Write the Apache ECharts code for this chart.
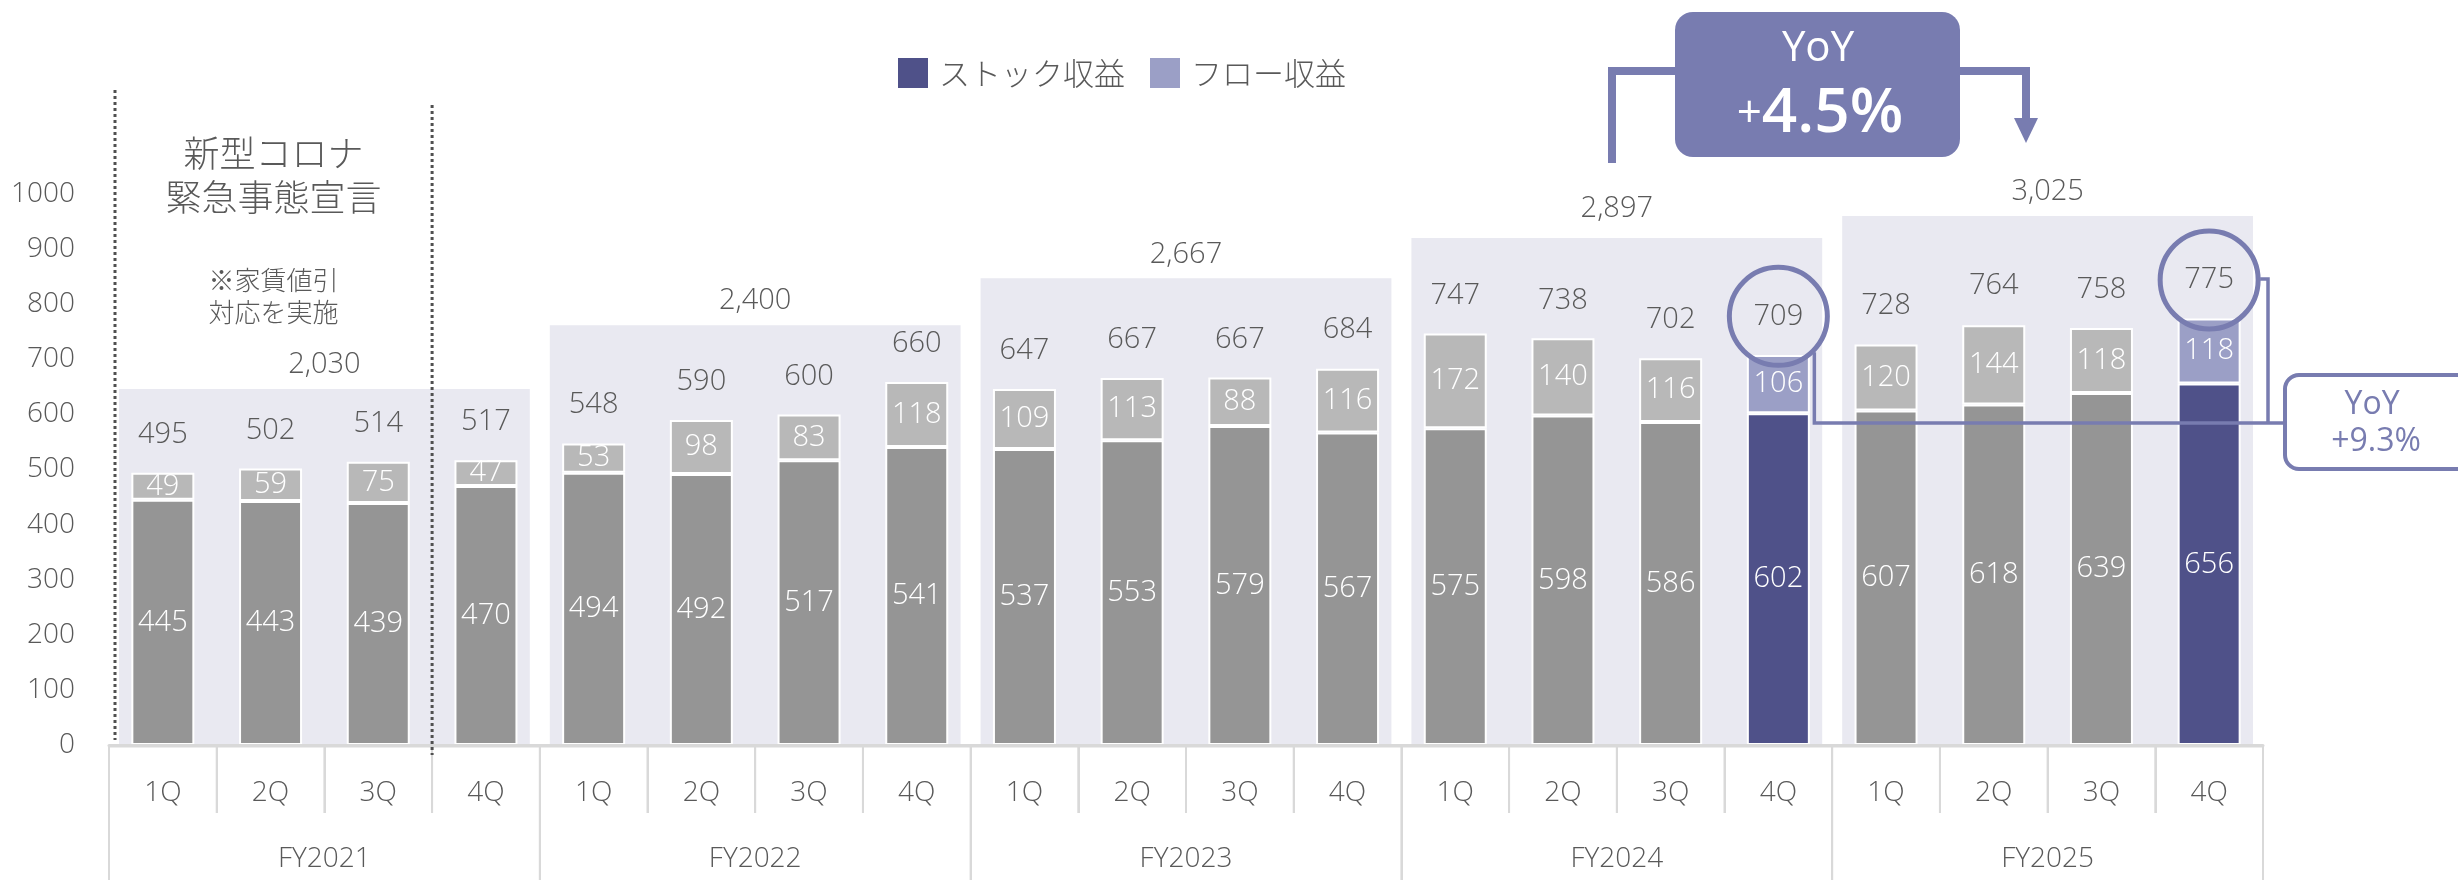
<!DOCTYPE html>
<html><head><meta charset="utf-8">
<script src="https://cdn.jsdelivr.net/npm/echarts@6/dist/echarts.min.js"></script>
<style>html,body{margin:0;padding:0;background:#fff}#c{width:2458px;height:880px}</style>
</head><body><div id="c"></div>
<script>
const quarters = ['1Q','2Q','3Q','4Q','1Q','2Q','3Q','4Q','1Q','2Q','3Q','4Q','1Q','2Q','3Q','4Q','1Q','2Q','3Q','4Q'];
const fiscalYears = ['FY2021','FY2022','FY2023','FY2024','FY2025'];
const stock = [445,443,439,470, 494,492,517,541, 537,553,579,567, 575,598,586,602, 607,618,639,656];
const flow  = [49,59,75,47, 53,98,83,118, 109,113,88,116, 172,140,116,106, 120,144,118,118];
const quarterTotals = [495,502,514,517, 548,590,600,660, 647,667,667,684, 747,738,702,709, 728,764,758,775];
const yearTotals = [2030,2400,2667,2897,3025];
const yTicks = [0,100,200,300,400,500,600,700,800,900,1000];
const highlighted = [15,19];
const seriesNames = ['ストック収益','フロー収益'];

const NUM = "'Open Sans','Noto Sans CJK JP',sans-serif";
const JP = "'Noto Sans CJK JP','Open Sans',sans-serif";
const TXT = '#595959';
const DARK = '#4F5189', LIGHT = '#9B9FC6', GRAY_D = '#959595', GRAY_L = '#B8B8B8', BOX = '#E9E9F1', ACC = '#787CB0';
const boxTop = [646,762,847,920,960];

const chart = echarts.init(document.getElementById('c'));
const labelInside = {show:true, position:'inside', color:'#fff', fontSize:29, fontFamily:NUM, fontWeight:300};

chart.setOption({
  animation:false,
  grid:{left:109, right:195, top:194, bottom:135, containLabel:false},
  legend:{
    data:seriesNames, left:896, top:56, padding:0, itemWidth:32, itemHeight:32, itemGap:23, icon:'rect',
    textStyle:{fontSize:31, color:TXT, fontFamily:JP, fontWeight:300, padding:[0,0,0,5]}
  },
  xAxis:[
    {type:'category', data:quarters, position:'bottom', z:5,
     axisLine:{show:true, lineStyle:{color:'#D9D9D9', width:3}},
     axisTick:{show:true, length:68, interval:0, lineStyle:{color:'#D9D9D9', width:2}},
     axisLabel:{show:true, interval:0, margin:34, fontSize:28, color:TXT, fontFamily:NUM, fontWeight:300}},
    {type:'category', data:fiscalYears, position:'bottom', offset:0, z:5,
     axisLine:{show:false},
     axisTick:{show:true, length:135, interval:0, lineStyle:{color:'#D9D9D9', width:2}},
     axisLabel:{show:true, interval:0, margin:100, fontSize:28, color:TXT, fontFamily:NUM, fontWeight:300}}
  ],
  yAxis:{type:'value', min:yTicks[0], max:yTicks[yTicks.length-1], interval:100,
    axisLine:{show:false}, axisTick:{show:false}, splitLine:{show:false},
    axisLabel:{margin:34, fontSize:28, color:TXT, fontFamily:NUM, fontWeight:300, formatter:function(v){return String(v);}}},
  series:[
    {type:'custom', name:'bg', z:0, silent:true, encode:{x:0,y:1},
     data: yearTotals.map((t,g)=>[g, boxTop[g], t]),
     renderItem:function(params, api){
       const g = api.value(0), top = api.value(1), tot = api.value(2);
       const band = api.size([1,0])[0];
       const xs = api.coord([g*4,0])[0] - band/2 + 10;
       const xe = api.coord([g*4+3,0])[0] + band/2 - 10;
       const yt = api.coord([g*4, top])[1];
       const yb = api.coord([g*4, 0])[1];
       return {type:'group', children:[
         {type:'rect', shape:{x:xs, y:yt, width:xe-xs, height:yb-yt}, style:{fill:BOX}},
         {type:'text', style:{text:tot.toLocaleString('en-US'), x:(xs+xe)/2, y:yt-(g===3?29:24), align:'center', verticalAlign:'middle',
           fontSize:29, fill:TXT, fontFamily:NUM, fontWeight:300}}
       ]};
     }},
    {type:'bar', name:seriesNames[0], stack:'a', barWidth:63, barGap:'-100%', z:2,
     itemStyle:{color:DARK, borderColor:'#fff', borderWidth:2},
     label:labelInside,
     data: stock.map((v,i)=>({value:v, itemStyle:{color: highlighted.includes(i)?DARK:GRAY_D}}))},
    {type:'bar', name:seriesNames[1], stack:'a', barWidth:63, barGap:'-100%', z:2,
     itemStyle:{color:LIGHT, borderColor:'#fff', borderWidth:2},
     label:labelInside,
     data: flow.map((v,i)=>({value:v, itemStyle:{color: highlighted.includes(i)?LIGHT:GRAY_L}}))},
    {type:'bar', name:'total', barWidth:63, barGap:'-100%', z:1, silent:true,
     itemStyle:{color:'rgba(0,0,0,0)'},
     label:{show:true, position:'top', distance:23, lineHeight:30, fontSize:29, color:TXT, fontFamily:NUM, fontWeight:300},
     data: quarterTotals}
  ]
});

// annotations anchored on the axes
const px = (i,v)=>chart.convertToPixel({xAxisIndex:0,yAxisIndex:0},[i,v]);
const band = px(1,0)[0]-px(0,0)[0];
const xLeft = px(0,0)[0]-band/2;
const xRight = px(19,0)[0]+band/2;
const yBase = px(0,0)[1];
const x34 = (px(2,0)[0]+px(3,0)[0])/2;
const covidMid = (xLeft+6+x34)/2;
const c1 = px(15, quarterTotals[15]); c1[1] -= 38;
const c2 = px(19, quarterTotals[19]); c2[1] -= 38;
const R = 49;
const lineY = 423;

const gfx = [];
// category table lines (cell separators)
for (let i=0;i<=20;i++){
  const x = xLeft + band*i;
  const full = (i%4===0);
  gfx.push({type:'line', shape:{x1:x,y1:yBase,x2:x,y2: full?880:yBase+68}, style:{stroke:'#D9D9D9', lineWidth:2}, z:3, silent:true});
}
gfx.push({type:'line', shape:{x1:xLeft,y1:yBase+1,x2:xRight,y2:yBase+1}, style:{stroke:'#D9D9D9', lineWidth:3}, z:3, silent:true});

gfx.push(
  {type:'line', shape:{x1:xLeft+6,y1:90,x2:xLeft+6,y2:740}, style:{stroke:'#505050', lineWidth:3, lineDash:[3,3]}, z:10},
  {type:'line', shape:{x1:x34,y1:105,x2:x34,y2:755}, style:{stroke:'#505050', lineWidth:3, lineDash:[3,3]}, z:10},
  {type:'text', style:{text:'新型コロナ\n緊急事態宣言', x:covidMid, y:175, align:'center', verticalAlign:'middle', fontSize:36, lineHeight:44, fill:TXT, fontFamily:JP, fontWeight:300}, z:10},
  {type:'text', style:{text:'※家賃値引\n対応を実施', x:covidMid, y:296, align:'center', verticalAlign:'middle', fontSize:26, lineHeight:32, fill:TXT, fontFamily:JP, fontWeight:300}, z:10},
  // YoY 4.5% box
  {type:'polyline', shape:{points:[[1612,163],[1612,71],[1680,71]]}, style:{stroke:ACC, lineWidth:8, fill:null}, z:10},
  {type:'polyline', shape:{points:[[1955,71],[2026,71],[2026,122]]}, style:{stroke:ACC, lineWidth:8, fill:null}, z:10},
  {type:'polygon', shape:{points:[[2014,118],[2038,118],[2026,143]]}, style:{fill:ACC}, z:10},
  {type:'rect', shape:{x:1675,y:12,width:285,height:145,r:18}, style:{fill:ACC}, z:11},
  {type:'text', style:{text:'YoY', x:1818, y:49, align:'center', verticalAlign:'middle', fontSize:42, fill:'#fff', fontFamily:NUM}, z:12},
  {type:'text', style:{text:'{p|+}{n|4.5%}', x:1820, y:114, align:'center', verticalAlign:'middle',
    rich:{p:{fontSize:44, fill:'#fff', fontFamily:NUM, fontWeight:400}, n:{fontSize:62, fill:'#fff', fontFamily:NUM, fontWeight:600}}}, z:12},
  // circles
  {type:'circle', shape:{cx:c1[0], cy:c1[1], r:R}, style:{stroke:ACC, lineWidth:5, fill:null}, z:12},
  {type:'circle', shape:{cx:c2[0], cy:c2[1], r:R}, style:{stroke:ACC, lineWidth:5, fill:null}, z:12},
  // connectors to +9.3%
  {type:'polyline', shape:{points:[[c1[0]+36,c1[1]+36],[c1[0]+36,lineY],[2285,lineY]]}, style:{stroke:ACC, lineWidth:3.5, fill:null}, z:12},
  {type:'polyline', shape:{points:[[c2[0]+R+2,c2[1]-1],[2268,c2[1]-1],[2268,lineY]]}, style:{stroke:ACC, lineWidth:3.5, fill:null}, z:12},
  {type:'rect', shape:{x:2285,y:375,width:190,height:94,r:14}, style:{fill:'#fff', stroke:ACC, lineWidth:4}, z:12},
  {type:'text', style:{text:'YoY', x:2372, y:405, align:'center', verticalAlign:'middle', fontSize:32, fill:ACC, fontFamily:NUM}, z:13},
  {type:'text', style:{text:'+9.3%', x:2376, y:442, align:'center', verticalAlign:'middle', fontSize:32, fill:ACC, fontFamily:NUM}, z:13}
);
chart.setOption({graphic:gfx});
</script></body></html>
